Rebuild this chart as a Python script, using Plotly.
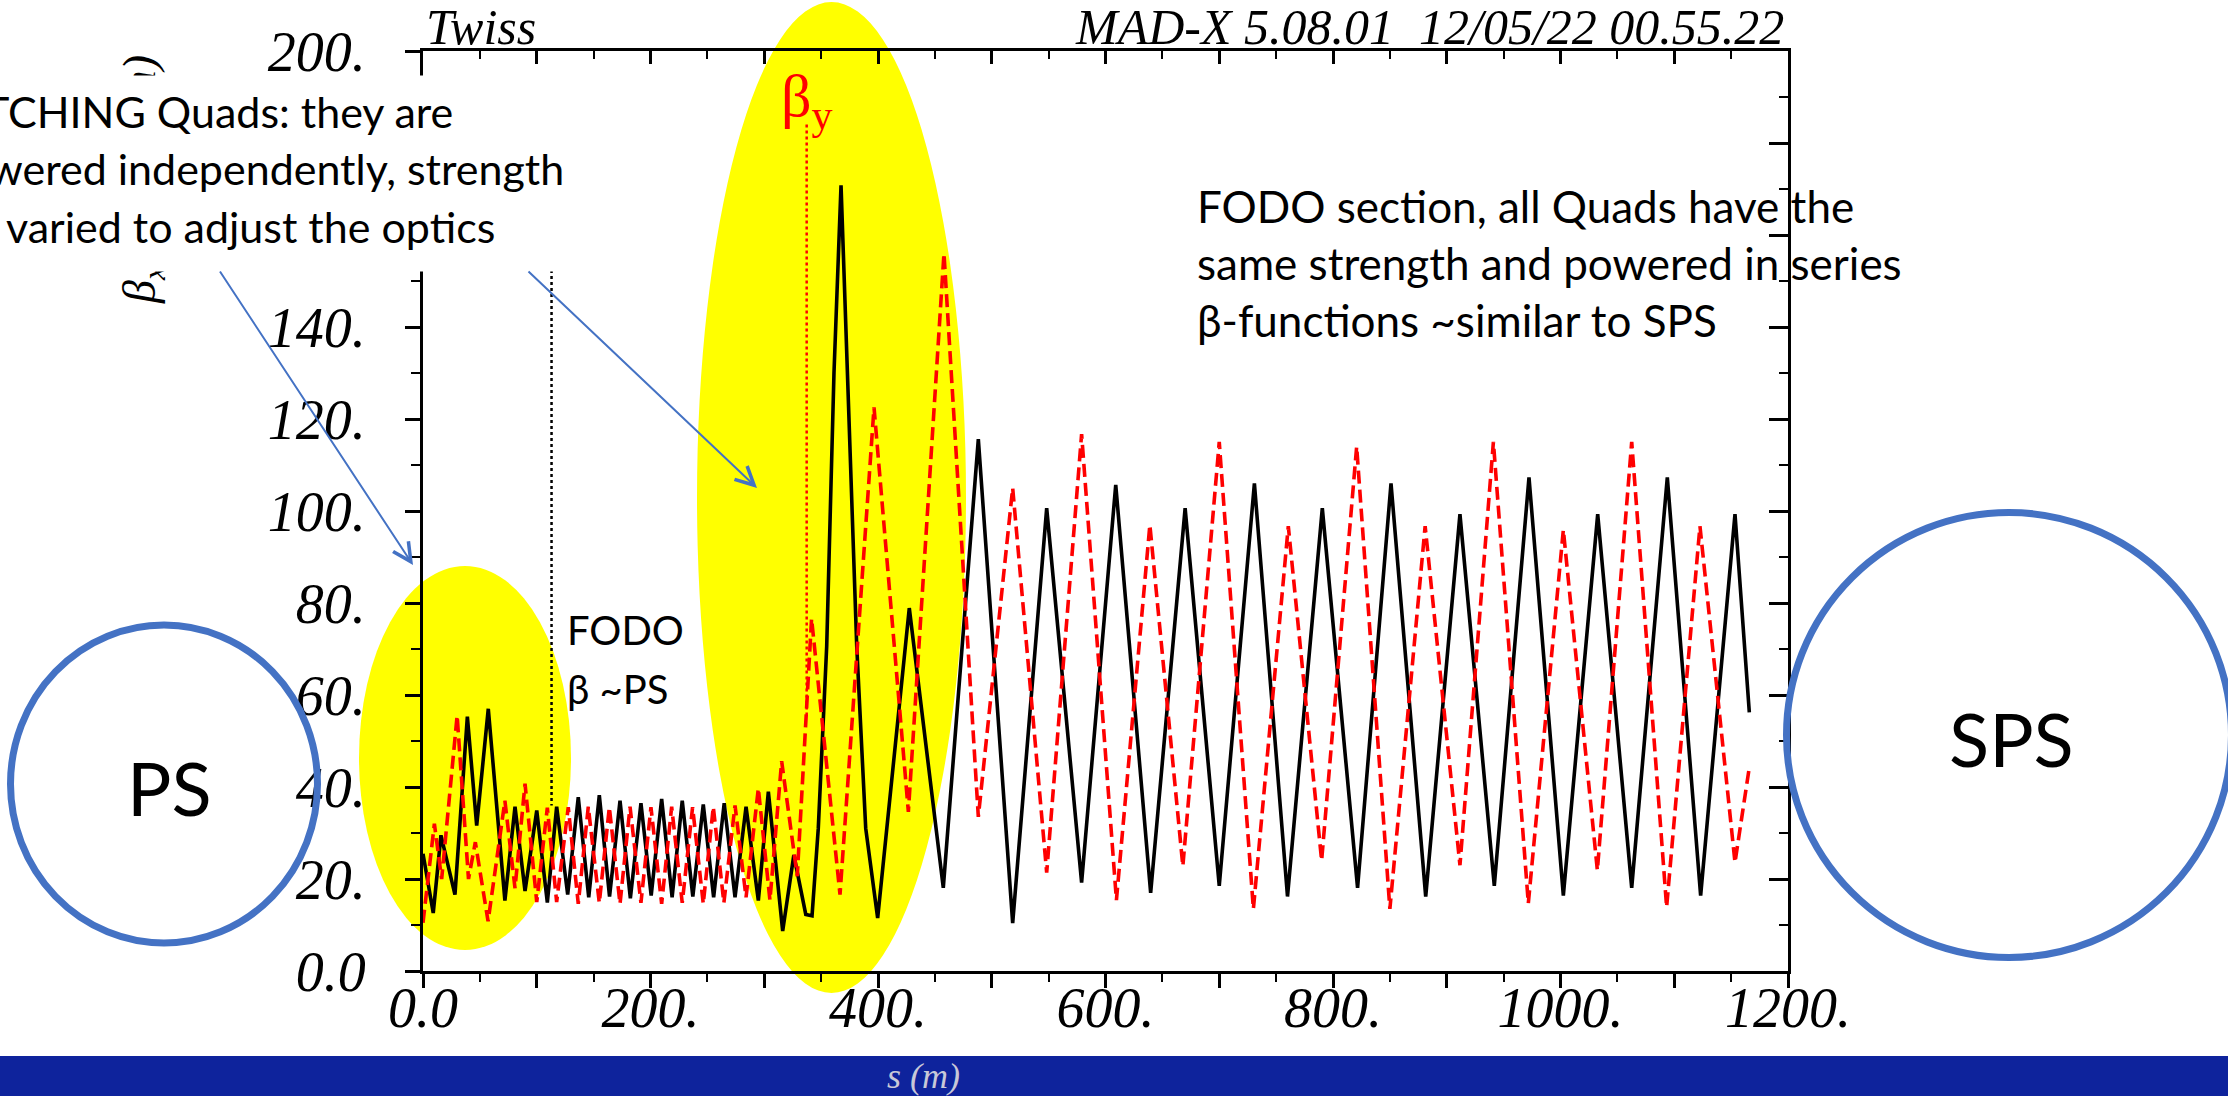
import plotly.graph_objects as go

W, H = 2228, 1096

# ---------------- data ----------------
# beta_x : black solid
s_x = [0, 9.0, 15.8, 28.1, 39.0, 47.2, 57.4, 72.0, 80.9, 89.7, 100.0, 109.3, 117.5, 127.2,
       136.5, 145.7, 155.0, 164.0, 173.2, 182.3, 191.6, 200.6, 209.8, 219.0, 227.9, 237.2,
       246.4, 255.5, 264.8, 274.3, 284.0, 294.8, 303.6, 316.2, 326.0, 336.5, 342.0, 347.5,
       354.9, 361.3, 367.5, 373.0, 381.3, 389.2, 399.7, 427.5, 457.4, 488.2, 518.4, 548.3,
       579.0, 609.0, 639.7, 670.0, 700.0, 730.9, 760.0, 790.6, 821.6, 851.0, 881.5, 911.6,
       941.8, 972.3, 1002.5, 1032.7, 1062.6, 1093.9, 1123.2, 1153.4, 1166.0]
betx = [25.5, 12.6, 29.5, 16.6, 55.3, 31.6, 57.0, 15.3, 35.7, 17.4, 34.9, 14.9, 35.7, 16.6,
        37.8, 16.0, 38.2, 16.2, 37.0, 15.8, 36.5, 16.4, 37.4, 16.0, 37.0, 16.2,
        36.2, 16.0, 36.5, 16.0, 35.7, 15.3, 39.0, 8.7, 25.2, 12.3, 12.0, 31.0,
        70.6, 130.0, 170.8, 130.0, 70.6, 31.0, 11.5, 78.9, 18.1, 115.6, 10.4, 100.6,
        19.2, 105.7, 17.0, 100.6, 18.5, 106.0, 16.2, 100.6, 18.1, 106.0, 16.2, 99.3,
        18.5, 107.3, 16.4, 99.3, 18.1, 107.3, 16.4, 99.3, 56.2]

# beta_y : red dashed
s_y = [0, 10.0, 16.4, 30.0, 40.0, 46.0, 57.2, 72.0, 80.9, 89.7, 100.0, 109.3, 117.5, 127.7,
       136.5, 145.3, 155.0, 163.8, 173.2, 182.0, 191.6, 200.4, 209.8, 218.6, 227.9, 237.0,
       246.4, 255.2, 264.5, 274.3, 284.0, 294.8, 305.0, 315.3, 329.0, 341.6, 366.6, 396.5,
       426.7, 458.0, 488.2, 518.4, 548.3, 579.0, 609.6, 639.0, 668.0, 700.0, 730.0, 760.7,
       790.0, 820.8, 850.0, 881.0, 911.6, 941.0, 971.7, 1002.5, 1032.4, 1062.6, 1093.3,
       1122.6, 1153.4, 1166.0]
bety = [10.5, 32.0, 20.0, 55.5, 20.0, 28.0, 10.8, 37.0, 18.0, 40.7, 15.0, 35.5, 15.0, 35.6,
        14.6, 35.7, 14.8, 35.6, 14.6, 35.7, 14.8, 35.6, 14.6, 35.7, 14.8, 35.6,
        14.6, 35.7, 14.8, 36.0, 16.0, 39.7, 15.4, 45.6, 20.6, 76.6, 16.6, 122.5,
        34.6, 156.0, 33.5, 105.0, 21.4, 116.7, 15.4, 97.0, 22.8, 115.0, 13.5, 96.7,
        24.0, 114.0, 13.5, 96.7, 23.0, 115.0, 14.7, 95.9, 21.9, 115.0, 13.9,
        96.7, 23.6, 44.3]

# label marker lines (s position, beta top, beta bottom)
marker_x = [113.0, 185.0, 36.0]
marker_y = [337.3, 184.0, 55.0]

# axis ticks
x_major = [0, 100, 200, 300, 400, 500, 600, 700, 800, 900, 1000, 1100, 1200]
x_text = ["0.0", "", "200.", "", "400.", "", "600.", "", "800.", "", "1000.", "", "1200."]
y_major = [0, 20, 40, 60, 80, 100, 120, 140, 160, 180, 200]
y_text = ["0.0", "20.", "40.", "60.", "80.", "100.", "120.", "140.", "160.", "180.", "200."]


def fx(px):
    return px / W


def fy(py):
    return 1 - py / H


fig = go.Figure()
fig.add_trace(go.Scatter(x=s_x, y=betx, mode="lines", line=dict(color="black", width=3.6),
                         showlegend=False, hoverinfo="skip"))
fig.add_trace(go.Scatter(x=s_y, y=bety, mode="lines",
                         line=dict(color="#ff0000", width=3.6, dash="13px,6px"),
                         showlegend=False, hoverinfo="skip"))
# helper trace so the mirrored tick axes exist
fig.add_trace(go.Scatter(x=[None], y=[None], xaxis="x2", yaxis="y2", showlegend=False,
                         hoverinfo="skip"))

tick_font = dict(family="Liberation Serif", size=56, color="black", style="italic")
xdom = [fx(423), fx(1788)]
ydom = [fy(971), fy(51)]

fig.update_layout(
    width=W, height=H, margin=dict(l=0, r=0, t=0, b=0, pad=0, autoexpand=False),
    paper_bgcolor="white", plot_bgcolor="rgba(0,0,0,0)",
    xaxis=dict(domain=xdom, range=[0, 1200], showgrid=False, zeroline=False, automargin=False,
               showline=True, linecolor="black", linewidth=3, mirror=True,
               ticks="outside", ticklen=14, tickwidth=2.5, tickcolor="black",
               tickmode="array", tickvals=x_major, ticktext=x_text, tickfont=tick_font,
               ticklabelstandoff=-28,
               minor=dict(ticks="outside", dtick=50, tick0=0, ticklen=8, tickwidth=2,
                          tickcolor="black", showgrid=False)),
    yaxis=dict(domain=ydom, range=[0, 200], showgrid=False, zeroline=False, automargin=False,
               showline=True, linecolor="black", linewidth=3, mirror=True,
               ticks="outside", ticklen=15, tickwidth=2.5, tickcolor="black",
               tickmode="array", tickvals=y_major, ticktext=y_text, tickfont=tick_font,
               ticklabelstandoff=28,
               minor=dict(ticks="outside", dtick=10, tick0=0, ticklen=9, tickwidth=2,
                          tickcolor="black", showgrid=False)),
    xaxis2=dict(overlaying="x", side="top", anchor="y", range=[0, 1200], showgrid=False,
                zeroline=False, showline=False, showticklabels=False, automargin=False,
                ticks="inside", ticklen=13, tickwidth=2.5, tickcolor="black",
                tickmode="array", tickvals=x_major,
                minor=dict(ticks="inside", dtick=50, tick0=0, ticklen=8, tickwidth=2,
                           tickcolor="black", showgrid=False)),
    yaxis2=dict(overlaying="y", side="right", anchor="x", range=[0, 200], showgrid=False,
                zeroline=False, showline=False, showticklabels=False, automargin=False,
                ticks="inside", ticklen=19, tickwidth=2.5, tickcolor="black",
                tickmode="array", tickvals=y_major,
                minor=dict(ticks="inside", dtick=10, tick0=0, ticklen=9, tickwidth=2,
                           tickcolor="black", showgrid=False)),
    showlegend=False,
)

shapes = []
# yellow highlight ellipses (behind data)
shapes.append(dict(type="circle", xref="paper", yref="paper", layer="below",
                   x0=fx(359), x1=fx(571), y0=fy(950), y1=fy(566),
                   fillcolor="#ffff00", line=dict(width=0)))
shapes.append(dict(type="circle", xref="paper", yref="paper", layer="below",
                   x0=fx(697), x1=fx(966), y0=fy(993), y1=fy(2),
                   fillcolor="#ffff00", line=dict(width=0)))
# label marker lines
shapes.append(dict(type="line", xref="x", yref="y", layer="above",
                   x0=marker_x[0], x1=marker_x[0], y0=marker_x[1], y1=marker_x[2],
                   line=dict(color="black", width=2.5, dash="dot")))
shapes.append(dict(type="line", xref="x", yref="y", layer="above",
                   x0=marker_y[0], x1=marker_y[0], y0=marker_y[1], y1=marker_y[2],
                   line=dict(color="#ff0000", width=2.5, dash="dot")))
# PS / SPS rings
shapes.append(dict(type="circle", xref="paper", yref="paper", layer="above",
                   x0=fx(10.5), x1=fx(317.5), y0=fy(943), y1=fy(625),
                   line=dict(color="#4472c4", width=7)))
shapes.append(dict(type="circle", xref="paper", yref="paper", layer="above",
                   x0=fx(1786.5), x1=fx(2231.5), y0=fy(957.5), y1=fy(512.5),
                   line=dict(color="#4472c4", width=7)))
# bottom blue band
shapes.append(dict(type="rect", xref="paper", yref="paper", layer="above",
                   x0=0, x1=1, y0=0, y1=fy(1056),
                   fillcolor="#0e239c", line=dict(width=0)))
fig.update_layout(shapes=shapes)

sans = "Lato"
ann = []


def text(px, py, s, size=42, family=sans, color="black", xanchor="left", yanchor="middle",
         style="normal", textangle=0):
    ann.append(dict(xref="paper", yref="paper", x=fx(px), y=fy(py), text=s, showarrow=False,
                    xanchor=xanchor, yanchor=yanchor, textangle=textangle,
                    font=dict(family=family, size=size, color=color, style=style)))


# header
text(424, 27, "Twiss", size=50, family="Liberation Serif", style="italic")
text(1786, 27, "MAD-X 5.08.01  12/05/22 00.55.22", size=50, family="Liberation Serif",
     style="italic", xanchor="right")
# y axis title (mostly hidden behind the text box drawn after it)
text(143, 180, "β<sub>x</sub> (m), β<sub>y</sub> (m)", size=46, family="Liberation Serif",
     xanchor="center", textangle=-90, style="italic")
# white text box of the slide (covers part of the axis)
ann.append(dict(xref="paper", yref="paper", x=0, y=fy(75), xanchor="left", yanchor="top",
                text=" ", showarrow=False, width=640, height=195, bgcolor="white",
                borderpad=0, font=dict(size=10)))
# x axis title
text(923, 1076, "s (m)", size=36, family="Liberation Serif", style="italic",
     color="#c8c8d8", xanchor="center")
# beta_y label
text(807, 100, "β<sub>y</sub>", size=60, family="Liberation Serif", color="#ff0000",
     xanchor="center")

# top-left text (cut at the slide edge)
text(455, 112, "TCHING Quads: they are", size=43, xanchor="right")
text(566, 168, "wered independently, strength", size=43, xanchor="right")
text(497, 226, "varied to adjust the optics", size=43, xanchor="right")
# FODO notes
text(565, 630, "FODO", size=40)
text(565, 689, "β ~PS", size=40)
text(1195, 206, "FODO section, all Quads have the", size=44)
text(1195, 263, "same strength and powered in series", size=44)
text(1195, 320, "β-functions ~similar to SPS", size=44)
# ring labels
text(169, 787, "PS", size=74, xanchor="center")
text(2011, 738, "SPS", size=74, xanchor="center")

# blue arrows
for (hx, hy, tx, ty) in [(413, 565, 219, 270), (757, 488, 527, 270)]:
    ann.append(dict(xref="paper", yref="paper", x=fx(hx), y=fy(hy), ax=tx - hx, ay=ty - hy,
                    axref="pixel", ayref="pixel", text="", showarrow=True,
                    arrowhead=5, arrowsize=1.8, arrowwidth=2, arrowcolor="#4472c4",
                    standoff=0))

fig.update_layout(annotations=ann)
fig.write_html("out.html")
